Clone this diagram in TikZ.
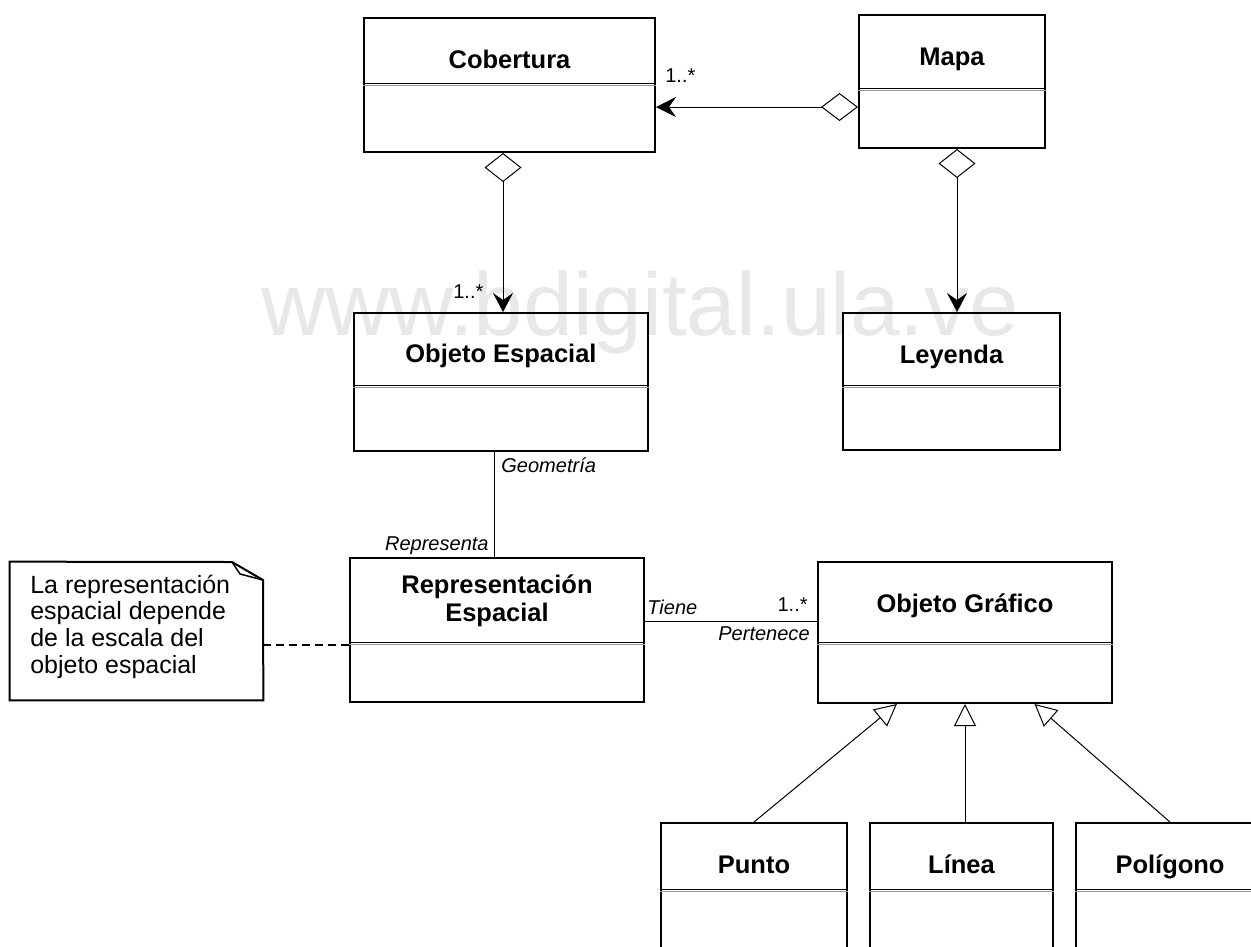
\documentclass[tikz,border=0pt]{standalone}
\usepackage{fontspec}
\setmainfont{Liberation Sans}
\usetikzlibrary{arrows.meta,calc,fit}
\def\divline(#1)(#2){\draw[line width=0.2mm] (#1) -- (#2); \draw[line width=0.3mm, color=black!40] ($(#1)+(0,2.5)$) -- ($(#2)+(0,2.5)$);}
\tikzset{
  classbox/.style={draw, line width=0.4mm, inner sep=0pt},
  cname/.style={font=\bfseries\fontsize{14.5}{17}\selectfont, inner sep=0pt, anchor=base},
  rolelbl/.style={font=\itshape\fontsize{11.4}{13}\selectfont, inner sep=0pt},
  multlbl/.style={font=\fontsize{11.4}{13}\selectfont, inner sep=0pt},
  notetxt/.style={font=\fontsize{14.2}{15}\selectfont, inner sep=0pt, anchor=base west},
  wmark/.style={font=\fontsize{50.7}{60}\selectfont, text=black!9, inner sep=0pt, anchor=base},
  conn/.style={line width=0.2mm},
  aggh/.style={conn, {Diamond[open,length=7.4mm,width=5.6mm]}-{Stealth[length=4mm,width=4mm,inset=1.4mm]}},
  aggv/.style={conn, {Diamond[open,length=5.8mm,width=7.4mm]}-{Stealth[length=3.8mm,width=4mm,inset=1.4mm]}},
  gen/.style={conn, -{Triangle[open,length=4.4mm,width=4.4mm]}},
  notelink/.style={line width=0.3mm, dash pattern=on 1.6mm off 1mm}
}
\begin{document}
\begin{tikzpicture}[x=0.2mm,y=-0.2mm]
		%%%%% FRAME %%%%%
		\useasboundingbox (0,0) rectangle (1251,946);
		\clip (0,0) rectangle (1251,946);
		
		\node[wmark] (wm) at (640,335) {www.bdigital.ula.ve};
		
		%%%%% CLASSES %%%%%
		\node[classbox, fit={(364,18) (655,152)}] (cob) {};
		\divline(cob.west |- 0,83)(cob.east |- 0,83)
		\node[cname] (cobT) at (509.5,68) {Cobertura};
		
		\node[classbox, fit={(859,15) (1045,148)}] (map) {};
		\divline(map.west |- 0,88)(map.east |- 0,88)
		\node[cname] (mapT) at (952,65) {Mapa};
		
		\node[classbox, fit={(354,313) (648,451)}] (oes) {};
		\divline(oes.west |- 0,385)(oes.east |- 0,385)
		\node[cname] (oesT) at (501,362) {Objeto Espacial};
		
		\node[classbox, fit={(843,313) (1060,450)}] (ley) {};
		\divline(ley.west |- 0,385)(ley.east |- 0,385)
		\node[cname] (leyT) at (951.5,363) {Leyenda};
		
		\node[classbox, fit={(350,558) (644,702)}] (rep) {};
		\divline(rep.west |- 0,642)(rep.east |- 0,642)
		\node[cname] (repT) at (497,593) {Representación};
		\node[cname] (repT2) at (497,621) {Espacial};
		
		\node[classbox, fit={(818,562) (1112,703)}] (ogr) {};
		\divline(ogr.west |- 0,642)(ogr.east |- 0,642)
		\node[cname] (ogrT) at (965,612) {Objeto Gráfico};
		
		\node[classbox, fit={(661,823) (847,990)}] (pun) {};
		\divline(pun.west |- 0,889)(pun.east |- 0,889)
		\node[cname] (punT) at (754,873) {Punto};
		
		\node[classbox, fit={(870,823) (1053,990)}] (lin) {};
		\divline(lin.west |- 0,889)(lin.east |- 0,889)
		\node[cname] (linT) at (961.5,873) {Línea};
		
		\node[classbox, fit={(1076,823) (1264,990)}] (pol) {};
		\divline(pol.west |- 0,889)(pol.east |- 0,889)
		\node[cname] (polT) at (1170,873) {Polígono};
		
		%%%%% NOTE %%%%%
		\node[inner sep=0pt, fit={(10,562) (263,700)}] (note) {};
		\draw[line width=0.4mm] (note.north west) -- (232,562) -- (263,580) -- (note.south east) -- (note.south west) -- cycle;
		\draw[line width=0.3mm] (232,562) -- (240,574) -- (263,580);
		\foreach \t [count=\i from 0] in {La representación, espacial depende, de la escala del, objeto espacial}
			\node[notetxt] (note\i) at (30,593+26.7*\i) {\t};
		\draw[notelink] (note.east |- 0,645) -- (rep.west |- 0,645);
		
		%%%%% LINKS %%%%%
		\draw[aggh] (map.west |- 0,107) -- (cob.east |- 0,107);
		\node[multlbl, anchor=base west] (m1) at (665,82) {1..*};
		
		\draw[aggv] (cob.south -| 503,0) -- (oes.north -| 503,0);
		\node[multlbl, anchor=base west] (m2) at (453,298) {1..*};
		
		\draw[aggv] (map.south -| 957,0) -- (ley.north -| 957,0);
		
		\draw[conn] (oes.south -| 494,0) -- (rep.north -| 494,0);
		\node[rolelbl, anchor=base west] (geo) at (501,472) {Geometría};
		\node[rolelbl, anchor=base east] (rpr) at (489,550) {Representa};
		
		\draw[conn] (rep.east |- 0,621) -- (ogr.west |- 0,621);
		\node[rolelbl, anchor=base west] (tie) at (647,614) {Tiene};
		\node[multlbl, anchor=base east] (m3) at (808,611) {1..*};
		\node[rolelbl, anchor=base east] (per) at (810,640) {Pertenece};
		
		\draw[gen] (pun.north) -- ($(ogr.south west)!0.27!(ogr.south east)$);
		\draw[gen] (ogr.south |- lin.north) -- (ogr.south);
		\draw[gen] (pol.north) -- ($(ogr.south west)!0.735!(ogr.south east)$);
		
	\end{tikzpicture}
\end{document}
